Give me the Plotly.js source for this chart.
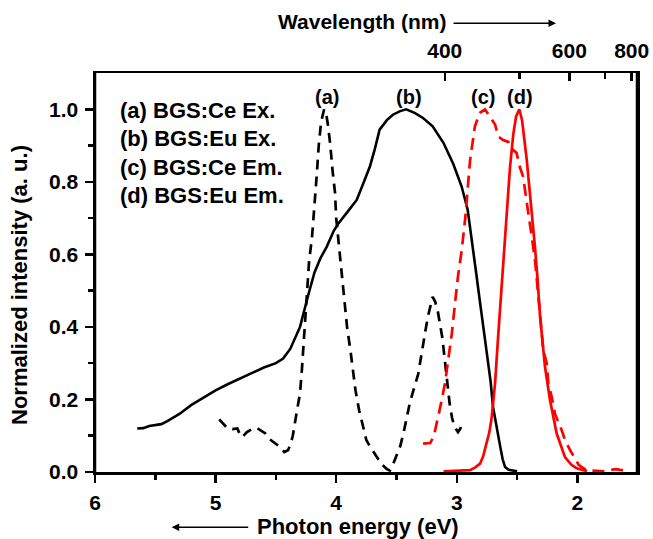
<!DOCTYPE html>
<html>
<head>
<meta charset="utf-8">
<script src="https://cdn.plot.ly/plotly-3.0.1.min.js"></script>
<style>
html,body{margin:0;padding:0;background:#fff;}
#wrap{position:relative;width:653px;height:539px;}
#chart{width:653px;height:539px;}
#frame{position:absolute;left:92.5px;top:70.5px;width:547px;height:404px;box-sizing:border-box;border:2.5px solid #000;pointer-events:none;z-index:1000;}
</style>
</head>
<body>
<div id="wrap"><div id="chart"></div><div id="frame"></div></div>
<script>
// (a) BGS:Ce Ex. — black dashed
const ceExEnergy = [4.97,4.93,4.90,4.86,4.82,4.80,4.78,4.74,4.69,4.66,4.62,4.59,4.55,4.51,4.47,4.43,4.40,4.38,4.36,4.33,4.30,4.285,4.26,4.245,4.225,4.20,4.175,4.16,4.145,4.125,4.10,4.085,4.07,4.05,4.03,4.01,4.0,3.97,3.94,3.91,3.88,3.86,3.84,3.81,3.78,3.75,3.72,3.69,3.65,3.62,3.58,3.555,3.53,3.50,3.47,3.44,3.415,3.39,3.36,3.32,3.30,3.28,3.26,3.24,3.22,3.20,3.18,3.156,3.12,3.10,3.07,3.06,3.04,3.02,2.99,2.97,2.96];
const ceExInt = [0.145,0.13,0.12,0.118,0.12,0.105,0.096,0.11,0.12,0.122,0.112,0.107,0.09,0.08,0.07,0.055,0.06,0.075,0.10,0.16,0.217,0.28,0.40,0.46,0.58,0.65,0.75,0.825,0.90,0.965,1.0,0.99,0.96,0.905,0.83,0.77,0.70,0.60,0.49,0.40,0.33,0.28,0.225,0.17,0.13,0.088,0.07,0.055,0.035,0.02,0.008,0.004,0.02,0.045,0.07,0.11,0.15,0.19,0.225,0.27,0.31,0.355,0.39,0.428,0.46,0.483,0.47,0.44,0.37,0.31,0.225,0.19,0.15,0.125,0.11,0.12,0.134];

// (b) BGS:Eu Ex. — black solid
const euExEnergy = [5.65,5.6,5.55,5.5,5.45,5.4,5.3,5.2,5.1,5.0,4.9,4.8,4.7,4.6,4.5,4.44,4.38,4.30,4.23,4.18,4.13,4.08,4.02,3.98,3.9,3.83,3.77,3.72,3.68,3.64,3.58,3.53,3.47,3.42,3.35,3.28,3.2,3.11,3.03,2.96,2.91,2.87,2.84,2.81,2.78,2.75,2.72,2.70,2.67,2.64,2.62,2.60,2.57,2.53,2.5];
const euExInt = [0.12,0.121,0.127,0.13,0.132,0.14,0.16,0.185,0.205,0.225,0.242,0.258,0.274,0.288,0.30,0.313,0.34,0.40,0.49,0.55,0.59,0.62,0.665,0.686,0.72,0.75,0.80,0.843,0.89,0.944,0.97,0.985,0.995,1.0,0.99,0.976,0.953,0.907,0.85,0.787,0.723,0.63,0.55,0.474,0.40,0.336,0.25,0.18,0.12,0.07,0.035,0.014,0.006,0.003,0.002];

// (c) BGS:Ce Em. — red dashed
const ceEmEnergy = [3.28,3.22,3.19,3.156,3.125,3.098,3.056,3.042,3.015,2.99,2.96,2.93,2.91,2.89,2.85,2.81,2.766,2.725,2.683,2.656,2.617,2.573,2.56,2.505,2.477,2.451,2.42,2.41,2.379,2.352,2.32,2.283,2.255,2.241,2.213,2.186,2.13,2.103,2.06,2.034,1.99,1.951,1.90,1.84,1.77,1.72,1.68,1.647,1.59];
const ceEmInt = [0.078,0.08,0.10,0.15,0.198,0.245,0.336,0.38,0.465,0.54,0.61,0.70,0.78,0.86,0.953,0.99,1.0,0.98,0.958,0.925,0.915,0.91,0.895,0.88,0.84,0.815,0.75,0.72,0.65,0.585,0.47,0.336,0.30,0.244,0.207,0.16,0.115,0.088,0.06,0.046,0.02,0.01,0.004,0.003,0.002,0.006,0.008,0.006,0.004];

// (d) BGS:Eu Em. — red solid
const euEmEnergy = [3.11,3.0,2.89,2.85,2.807,2.78,2.752,2.73,2.711,2.683,2.656,2.628,2.61,2.587,2.559,2.532,2.509,2.482,2.459,2.42,2.379,2.352,2.33,2.31,2.269,2.227,2.172,2.103,2.05,2.006,1.954,1.92];
const euEmInt = [0.002,0.003,0.005,0.012,0.023,0.045,0.078,0.11,0.15,0.244,0.38,0.52,0.60,0.70,0.84,0.93,0.98,1.0,0.97,0.86,0.72,0.62,0.53,0.43,0.29,0.198,0.106,0.041,0.02,0.01,0.005,0.003];

// axis ticks
const energyTicks = [6,5,4,3,2];
const energyTickText = ['6','5','4','3','2'];
const energyMinor = [5.5,4.5,3.5,2.5];
const intensityTicks = [0,0.2,0.4,0.6,0.8,1.0];
const intensityTickText = ['0.0','0.2','0.4','0.6','0.8','1.0'];
const intensityMinor = [0.1,0.3,0.5,0.7,0.9];
const wavelengthTicks = [400,600,800];
const wavelengthMinor = [500,700];
const legendLines = ['(a) BGS:Ce Ex.','(b) BGS:Eu Ex.','(c) BGS:Ce Em.','(d) BGS:Eu Em.'];
const peakLabels = ['(a)','(b)','(c)','(d)'];
const peakLabelX = [4.08,3.394,2.78,2.476];

const toEV = nm => 1240 / nm;
const xRange = [6, 1.506];
const yRange = [0, 1.1];
const F = 'Liberation Sans, Arial, Helvetica, sans-serif';
const tf = (s) => ({family: F, size: s, color: '#000', weight: 'bold'});

const traces = [
  {x: ceExEnergy, y: ceExInt, mode: 'lines', line: {color: '#000', width: 2.7, dash: '10px,7px'}, hoverinfo: 'skip'},
  {x: euExEnergy, y: euExInt, mode: 'lines', line: {color: '#000', width: 2.6}, hoverinfo: 'skip'},
  {x: ceEmEnergy, y: ceEmInt, mode: 'lines', line: {color: '#ff0000', width: 2.7, dash: '12px,7px'}, hoverinfo: 'skip'},
  {x: euEmEnergy, y: euEmInt, mode: 'lines', line: {color: '#ff0000', width: 2.7}, hoverinfo: 'skip'},
  // plot frame sides (left / right), drawn at the axis range ends
  {x: [xRange[0], xRange[0], null, xRange[1], xRange[1]], y: [yRange[0], yRange[1], null, yRange[0], yRange[1]],
   mode: 'lines', line: {color: '#000', width: 2.5}, cliponaxis: false, connectgaps: false, hoverinfo: 'skip'},
  {x: wavelengthTicks.map(toEV), y: wavelengthTicks.map(() => 0.5), xaxis: 'x2', yaxis: 'y',
   mode: 'markers', marker: {opacity: 0, size: 1}, hoverinfo: 'skip'}
];

const annotations = [];
legendLines.forEach((t, i) => {
  annotations.push({xref: 'paper', yref: 'paper', x: 0.042, y: [0.907, 0.837, 0.764, 0.694][i],
    xanchor: 'left', yanchor: 'middle', text: t, showarrow: false, font: tf(22)});
});
peakLabels.forEach((t, i) => {
  annotations.push({xref: 'x', yref: 'y', x: peakLabelX[i], y: 1.035, xanchor: 'center', yanchor: 'middle',
    text: t, showarrow: false, font: tf(20)});
});
// axis titles
annotations.push({xref: 'paper', yref: 'paper', x: 0.485, y: -0.137, xanchor: 'center', yanchor: 'middle',
  text: 'Photon energy (eV)', showarrow: false, font: tf(22)});
annotations.push({xref: 'paper', yref: 'paper', x: 0.1415, y: -0.1386, text: '', showarrow: true,
  ax: 78, ay: 0, arrowhead: 2, arrowsize: 1, arrowwidth: 1.5, arrowcolor: '#000'});
annotations.push({xref: 'paper', yref: 'paper', x: 0.4935, y: 1.1286, xanchor: 'center', yanchor: 'middle',
  text: 'Wavelength (nm)', showarrow: false, font: tf(21)});
annotations.push({xref: 'paper', yref: 'paper', x: 0.8506, y: 1.1246, text: '', showarrow: true,
  ax: -104, ay: 0, arrowhead: 2, arrowsize: 1, arrowwidth: 1.5, arrowcolor: '#000'});
annotations.push({xref: 'paper', yref: 'paper', x: -0.1384, y: 0.4687, xanchor: 'center', yanchor: 'middle',
  text: 'Normalized intensity (a. u.)', textangle: -90, showarrow: false, font: tf(22)});

const layout = {
  width: 653, height: 539,
  margin: {l: 95, r: 16, t: 73, b: 67, pad: 0},
  paper_bgcolor: '#fff', plot_bgcolor: '#fff',
  showlegend: false,
  xaxis: {
    range: xRange, tickmode: 'array', tickvals: energyTicks, ticktext: energyTickText,
    ticks: 'outside', ticklen: 8, tickwidth: 2.5, tickcolor: '#000',
    showline: true, linewidth: 2.5, linecolor: '#000', mirror: false,
    showgrid: false, zeroline: false, tickfont: tf(21), ticklabelstandoff: 2,
    minor: {tickmode: 'array', tickvals: energyMinor, ticks: 'outside', ticklen: 5, tickwidth: 2.5, tickcolor: '#000', showgrid: false}
  },
  xaxis2: {
    overlaying: 'x', side: 'top', anchor: 'y', range: xRange, tickmode: 'array',
    tickvals: wavelengthTicks.map(toEV), ticktext: wavelengthTicks.map(String),
    ticks: 'inside', ticklen: 8, tickwidth: 2.5, tickcolor: '#000',
    showline: true, linewidth: 2.5, linecolor: '#000',
    showgrid: false, zeroline: false, tickfont: tf(21), ticklabelstandoff: 4,
    minor: {tickmode: 'array', tickvals: wavelengthMinor.map(toEV), ticks: 'inside', ticklen: 6, tickwidth: 2.5, tickcolor: '#000', showgrid: false}
  },
  yaxis: {
    range: yRange, tickmode: 'array', tickvals: intensityTicks, ticktext: intensityTickText,
    ticks: 'outside', ticklen: 8, tickwidth: 2.5, tickcolor: '#000',
    showline: true, linewidth: 2.5, linecolor: '#000', mirror: true,
    showgrid: false, zeroline: false, tickfont: tf(21), ticklabelstandoff: 2,
    minor: {tickmode: 'array', tickvals: intensityMinor, ticks: 'outside', ticklen: 5, tickwidth: 2.5, tickcolor: '#000', showgrid: false}
  },
  annotations: annotations
};

try {
  const p = Plotly.newPlot('chart', traces, layout, {staticPlot: true, displayModeBar: false});
  if (p && p.catch) p.catch(() => {});
} catch (e) {}
</script>
</body>
</html>
